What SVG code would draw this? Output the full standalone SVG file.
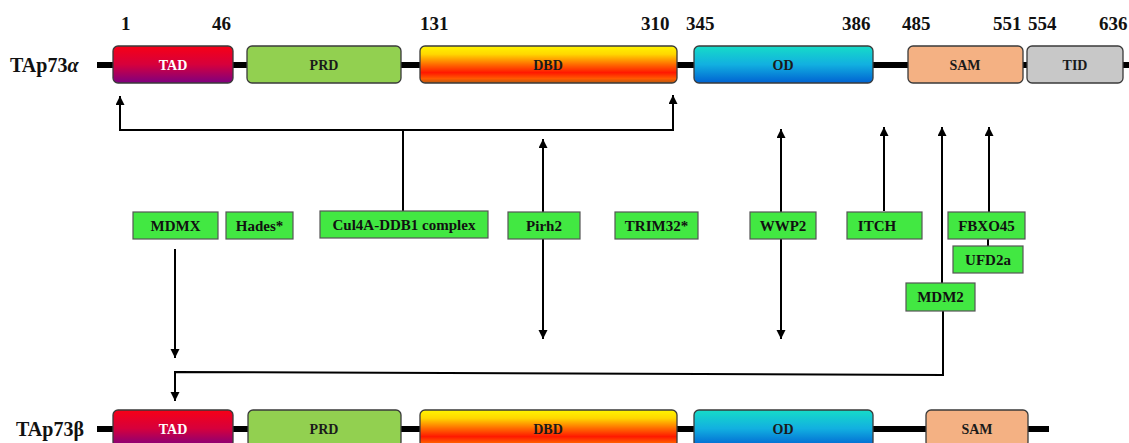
<svg xmlns="http://www.w3.org/2000/svg" width="1129" height="443" viewBox="0 0 1129 443">
<style>
text{font-family:"Liberation Serif","Times New Roman",serif;font-weight:bold}
.num{font-size:19px;fill:#111}
.iso{font-size:20px;fill:#111}
.dom{stroke:#3a3a3a;stroke-width:1.3}
.dl{font-size:14px;text-anchor:middle;fill:#1a1a1a}
.dlw{font-size:14px;text-anchor:middle;fill:#fff}
.gb{fill:#42E842;stroke:#555;stroke-width:1.2}
.gl{font-size:15px;text-anchor:middle;fill:#111}
.bb{stroke:#000;stroke-width:6}
.c{fill:none;stroke:#000;stroke-width:2}
</style>
<defs>
<linearGradient id="gTAD" x1="0" y1="0" x2="0" y2="1"><stop offset="0" stop-color="#F70016"/><stop offset="0.5" stop-color="#D6003C"/><stop offset="1" stop-color="#7E0080"/></linearGradient>
<linearGradient id="gDBD" x1="0" y1="0" x2="0" y2="1"><stop offset="0" stop-color="#FFF500"/><stop offset="0.22" stop-color="#FFD800"/><stop offset="0.5" stop-color="#FF6A00"/><stop offset="0.72" stop-color="#FF1800"/><stop offset="0.88" stop-color="#FF5A00"/><stop offset="1" stop-color="#B85A10"/></linearGradient>
<linearGradient id="gOD" x1="0" y1="0" x2="0" y2="1"><stop offset="0" stop-color="#16DCC8"/><stop offset="0.5" stop-color="#12B0E0"/><stop offset="1" stop-color="#0062D2"/></linearGradient>
<marker id="ah" markerUnits="userSpaceOnUse" markerWidth="10" markerHeight="10" refX="9" refY="4.5" orient="auto-start-reverse"><path d="M0,0 L9,4.5 L0,9 z" fill="#000"/></marker>
</defs>

<g id="numbers">
<text class="num" x="121" y="30">1</text>
<text class="num" x="212" y="30">46</text>
<text class="num" x="420" y="30">131</text>
<text class="num" x="641" y="30">310</text>
<text class="num" x="686" y="30">345</text>
<text class="num" x="842" y="30">386</text>
<text class="num" x="902" y="30">485</text>
<text class="num" x="993" y="30">551</text>
<text class="num" x="1028" y="30">554</text>
<text class="num" x="1099" y="30">636</text>
</g>

<g id="TAp73alpha">
<text class="iso" x="10" y="72">TAp73<tspan font-style="italic">α</tspan></text>
<line class="bb" x1="97" y1="65" x2="1129" y2="65"/>
<g id="a-TAD"><rect class="dom" x="113" y="46" width="120" height="37" rx="5" fill="url(#gTAD)"/><text class="dlw" x="173" y="70">TAD</text></g>
<g id="a-PRD"><rect class="dom" x="247" y="46" width="154" height="37" rx="5" fill="#92D050"/><text class="dl" x="324" y="70">PRD</text></g>
<g id="a-DBD"><rect class="dom" x="420" y="46" width="257" height="37" rx="5" fill="url(#gDBD)"/><text class="dl" x="548" y="70">DBD</text></g>
<g id="a-OD"><rect class="dom" x="694" y="46" width="179" height="37" rx="5" fill="url(#gOD)"/><text class="dl" x="783" y="70">OD</text></g>
<g id="a-SAM"><rect class="dom" x="908" y="46" width="115" height="37" rx="5" fill="#F4B183"/><text class="dl" x="965" y="70">SAM</text></g>
<g id="a-TID"><rect class="dom" x="1027" y="46" width="96" height="37" rx="5" fill="#C8C8C8"/><text class="dl" x="1075" y="70">TID</text></g>
</g>

<g id="TAp73beta">
<text class="iso" x="16" y="436">TAp73β</text>
<line class="bb" x1="97" y1="429" x2="1049" y2="429"/>
<g id="b-TAD"><rect class="dom" x="113" y="410" width="120" height="37" rx="5" fill="url(#gTAD)"/><text class="dlw" x="173" y="434">TAD</text></g>
<g id="b-PRD"><rect class="dom" x="248" y="410" width="153" height="37" rx="5" fill="#92D050"/><text class="dl" x="324" y="434">PRD</text></g>
<g id="b-DBD"><rect class="dom" x="420" y="410" width="257" height="37" rx="5" fill="url(#gDBD)"/><text class="dl" x="548" y="434">DBD</text></g>
<g id="b-OD"><rect class="dom" x="694" y="410" width="179" height="37" rx="5" fill="url(#gOD)"/><text class="dl" x="783" y="434">OD</text></g>
<g id="b-SAM"><rect class="dom" x="926" y="410" width="102" height="37" rx="5" fill="#F4B183"/><text class="dl" x="977" y="434">SAM</text></g>
</g>

<g id="connectors">
<path class="c" d="M403,211 V130" />
<path class="c" d="M120,96 V130 H673 V95" marker-start="url(#ah)" marker-end="url(#ah)"/>
<path class="c" d="M543,139 V339" marker-start="url(#ah)" marker-end="url(#ah)"/>
<path class="c" d="M781,129 V339" marker-start="url(#ah)" marker-end="url(#ah)"/>
<path class="c" d="M884,211 V127" marker-end="url(#ah)"/>
<path class="c" d="M942,283 V127" marker-end="url(#ah)"/>
<path class="c" d="M989,212 V127" marker-end="url(#ah)"/>
<path class="c" d="M988,239 V246"/>
<path class="c" d="M175,249 V358" marker-end="url(#ah)"/>
<path class="c" d="M943,311 V375 L175,372 V401" marker-end="url(#ah)"/>
</g>

<g id="MDMX"><rect class="gb" x="133" y="212" width="85" height="27"/><text class="gl" x="175.5" y="231">MDMX</text></g>
<g id="Hades"><rect class="gb" x="226" y="212" width="67" height="27"/><text class="gl" x="259.5" y="231">Hades*</text></g>
<g id="Cul4A"><rect class="gb" x="320" y="211" width="168" height="27"/><text class="gl" x="404" y="230">Cul4A-DDB1 complex</text></g>
<g id="Pirh2"><rect class="gb" x="508" y="212" width="72" height="27"/><text class="gl" x="544" y="231">Pirh2</text></g>
<g id="TRIM32"><rect class="gb" x="615" y="212" width="83" height="27"/><text class="gl" x="656.5" y="231">TRIM32*</text></g>
<g id="WWP2"><rect class="gb" x="750" y="212" width="66" height="27"/><text class="gl" x="783" y="231">WWP2</text></g>
<g id="ITCH"><rect class="gb" x="847" y="212" width="75" height="27"/><text class="gl" x="877" y="231">ITCH</text></g>
<g id="FBXO45"><rect class="gb" x="948" y="212" width="77" height="27"/><text class="gl" x="986.5" y="231">FBXO45</text></g>
<g id="UFD2a"><rect class="gb" x="953" y="246" width="70" height="27"/><text class="gl" x="988" y="265">UFD2a</text></g>
<g id="MDM2"><rect class="gb" x="906" y="283" width="69" height="28"/><text class="gl" x="940.5" y="302">MDM2</text></g>
</svg>
